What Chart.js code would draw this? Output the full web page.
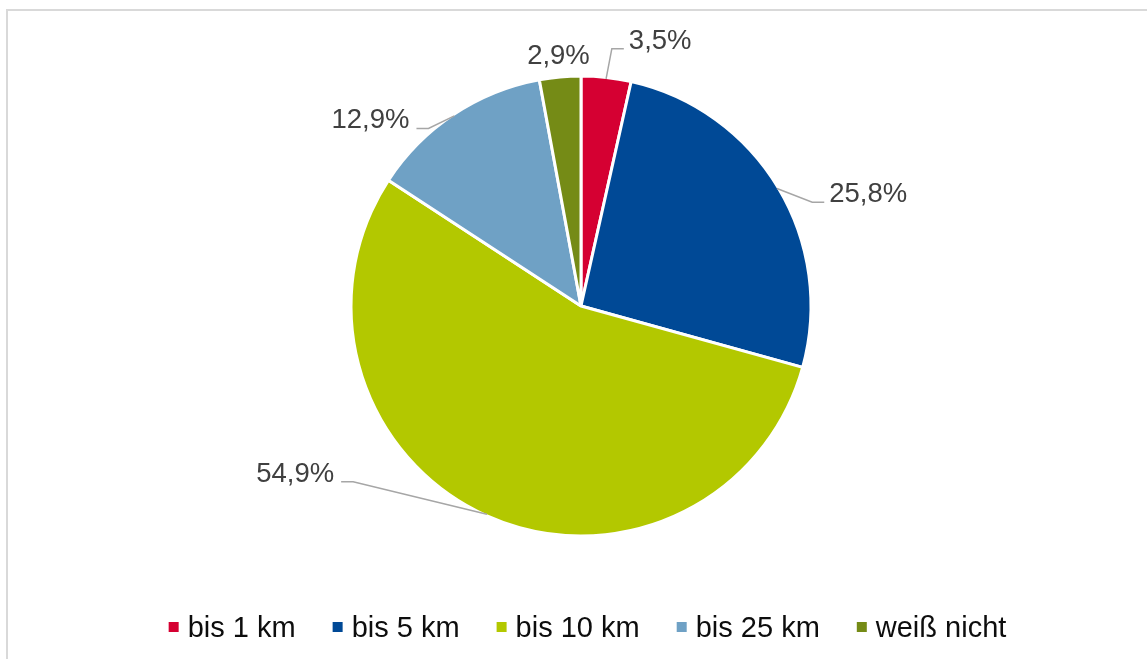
<!DOCTYPE html>
<html lang="de">
<head>
  <meta charset="UTF-8" />
  <title>Entfernung</title>
  <script src="https://cdn.jsdelivr.net/npm/chart.js@4.4.1/dist/chart.umd.min.js"></script>
  <style>
    html, body { margin: 0; padding: 0; background: #fff; overflow: hidden; }
    .frame { position: absolute; left: 6px; top: 9px; width: 1200px; height: 700px; border: 2px solid #d9d9d9; }
    .wrap  { position: absolute; left: 0; top: 0; width: 1147px; height: 659px; }
  </style>
</head>
<body>
  <div class="frame"></div>
  <div class="wrap"><canvas id="pie"></canvas></div>

  <script>
  const categories  = ['bis 1 km', 'bis 5 km', 'bis 10 km', 'bis 25 km', 'weiß nicht'];
  const shares      = [3.5, 25.8, 54.9, 12.9, 2.9];
  const sliceColors = ['#d50032', '#004996', '#b3c800', '#6fa1c5', '#758b16'];
  // value labels: [angle clockwise from 12 o'clock in degrees, distance in pie radii]
  const labelSpots  = [[16.5, 1.22], [68.4, 1.352], [239.9, 1.446], [311.7, 1.234], [354.9, 1.109]];

  const FONT = '"Liberation Sans", Arial, sans-serif';
  const fmt = v => v.toFixed(1).replace('.', ',') + '%';

  // percentage labels outside the pie, with a leader line when moved off the slice centre
  const sliceLabels = {
    id: 'sliceLabels',
    afterDatasetsDraw(chart) {
      const ctx = chart.ctx;
      const arcs = chart.getDatasetMeta(0).data;
      ctx.save();
      ctx.font = '27.5px ' + FONT;
      ctx.textAlign = 'center';
      ctx.textBaseline = 'alphabetic';
      arcs.forEach((arc, i) => {
        const { x, y, startAngle, endAngle, outerRadius } =
          arc.getProps(['x', 'y', 'startAngle', 'endAngle', 'outerRadius'], true);
        const r   = outerRadius - 1.5;
        const mid = (startAngle + endAngle) / 2;
        const [deg, k] = labelSpots[i];
        const a   = (deg - 90) * Math.PI / 180;
        const cx  = x + r * k * Math.cos(a);
        const cy  = y + r * k * Math.sin(a);
        const text = fmt(shares[i]);
        const w    = ctx.measureText(text).width;
        const base = cy + 10;

        if (Math.abs(a - mid) > 0.05) {
          const ex = x + r * Math.cos(mid);
          const ey = y + r * Math.sin(mid);
          const right = cx > ex;
          const h1 = right ? cx - w / 2 - 5 : cx + w / 2 + 7;
          const h2 = right ? h1 - 12 : h1 + 12;
          ctx.beginPath();
          ctx.moveTo(h1, base);
          ctx.lineTo(h2, base);
          ctx.lineTo(ex, ey);
          ctx.strokeStyle = '#a6a6a6';
          ctx.lineWidth = 1.5;
          ctx.stroke();
        }
        ctx.fillStyle = '#404040';
        ctx.fillText(text, cx, base);
      });
      ctx.restore();
    }
  };

  // one-row legend under the pie
  const legendRow = {
    id: 'legendRow',
    afterDraw(chart) {
      const ctx = chart.ctx;
      ctx.save();
      ctx.font = '29px ' + FONT;
      ctx.textBaseline = 'alphabetic';
      const box = 10, gap = 9, space = 37;
      const widths = categories.map(c => ctx.measureText(c).width);
      const total = widths.reduce((s, w) => s + box + gap + w, 0) + space * (categories.length - 1);
      let x = chart.width / 2 + 14 - total / 2;
      const y = chart.height - 22;
      categories.forEach((c, i) => {
        ctx.fillStyle = sliceColors[i];
        ctx.fillRect(x, y - 15, box, box);
        ctx.fillStyle = '#0d0d0d';
        ctx.fillText(c, x + box + gap, y);
        x += box + gap + widths[i] + space;
      });
      ctx.restore();
    }
  };

  new Chart(document.getElementById('pie'), {
    type: 'pie',
    data: {
      labels: categories,
      datasets: [{
        data: shares,
        backgroundColor: sliceColors,
        borderColor: '#ffffff',
        borderWidth: 3,
        radius: 230
      }]
    },
    options: {
      responsive: true,
      maintainAspectRatio: false,
      animation: false,
      events: [],
      layout: { padding: { left: 15, right: 0, top: 0, bottom: 47 } },
      plugins: {
        legend: { display: false },
        tooltip: { enabled: false }
      }
    },
    plugins: [sliceLabels, legendRow]
  });
  </script>
</body>
</html>
